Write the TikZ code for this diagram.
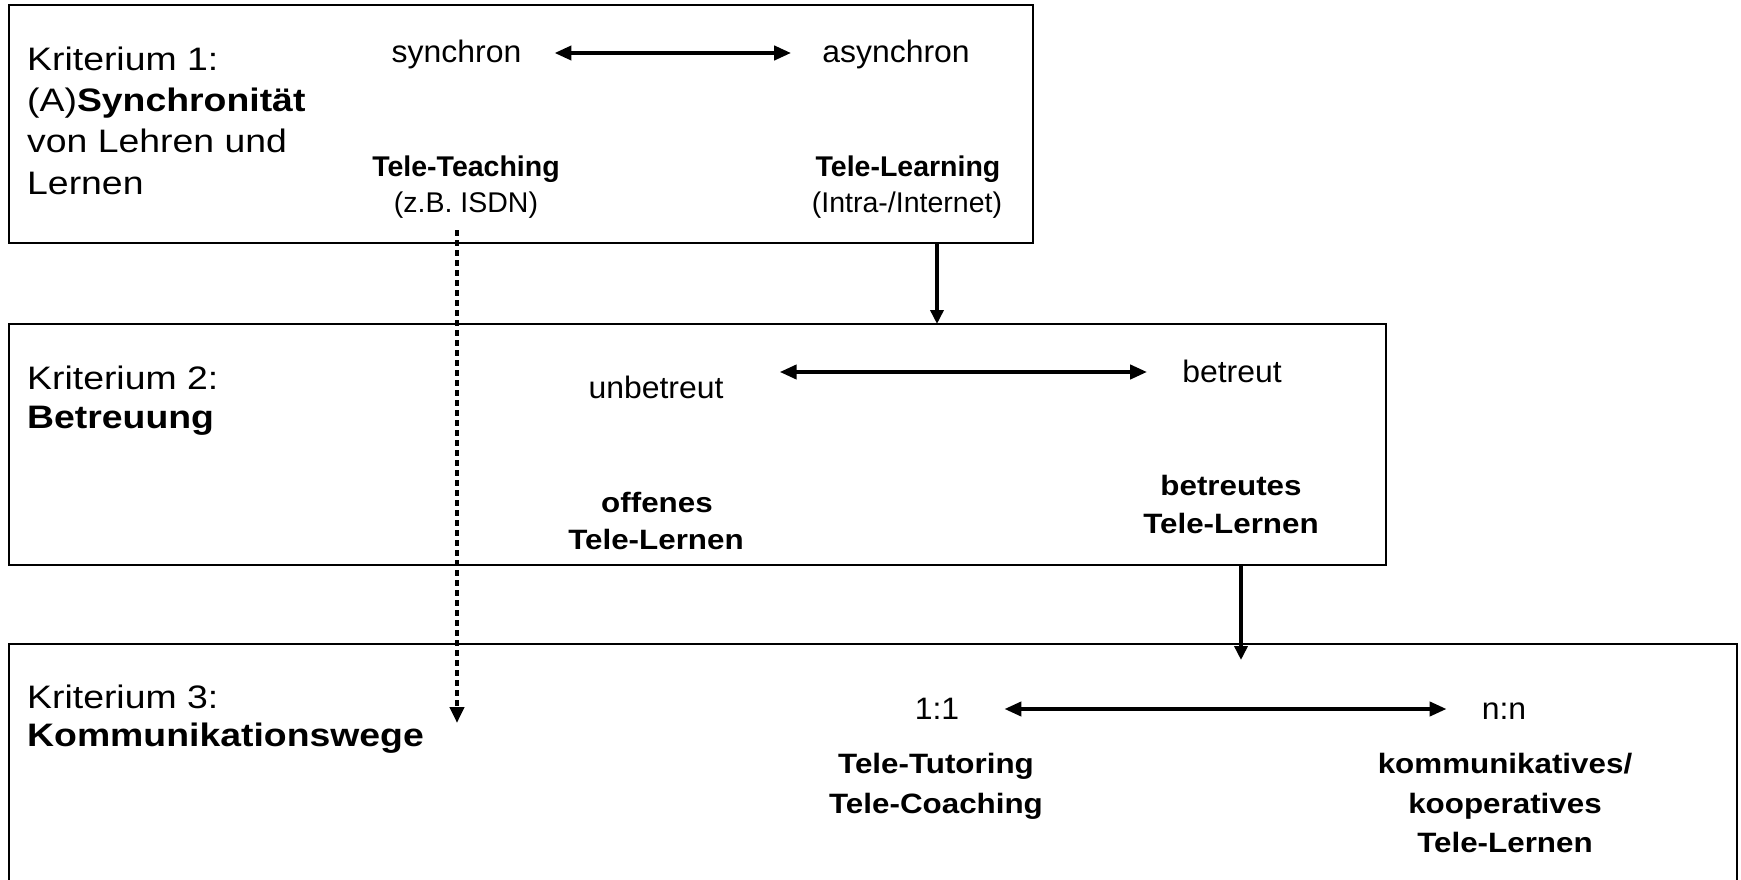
\documentclass[tikz,border=0pt]{standalone}
\usepackage{fontspec}
\setmainfont{Liberation Sans}
\newfontfamily\lblfam[FakeStretch=1.15]{Liberation Sans}
\newfontfamily\midfam[FakeStretch=1.03]{Liberation Sans}
\newfontfamily\nrmfam{Liberation Sans}
\newfontfamily\bbfam[FakeStretch=1.12]{Liberation Sans}
\usetikzlibrary{arrows.meta,calc}
\begin{document}
\begin{tikzpicture}[x=1pt,y=-1pt,
  box/.style={draw, line width=2.5pt, rectangle, inner sep=0pt, outer sep=0pt},
  lbl/.style={anchor=base west, inner sep=0pt, font=\lblfam\fontsize{32.5pt}{39pt}\selectfont},
  mid/.style={anchor=base, inner sep=0pt, font=\midfam\fontsize{31pt}{37pt}\selectfont},
  bone/.style={anchor=base, inner sep=0pt, font=\nrmfam\bfseries\fontsize{28.5pt}{34pt}\selectfont},
  rone/.style={anchor=base, inner sep=0pt, font=\nrmfam\fontsize{28.5pt}{34pt}\selectfont},
  btwo/.style={anchor=base, inner sep=0pt, font=\bbfam\bfseries\fontsize{28pt}{34pt}\selectfont},
  dbl/.style={line width=4pt, {Triangle[length=17pt,width=14pt]}-{Triangle[length=17pt,width=14pt]}},
  varrow/.style={line width=3.5pt, -{Triangle[length=14pt,width=13pt]}},
  dotarrow/.style={line width=4pt, dash pattern=on 6pt off 4pt, -{Triangle[length=16pt,width=14pt]}}
]
\useasboundingbox (0,0) rectangle (1741,880);
\clip (0,0) rectangle (1741,880);

% boxes
\node[box, minimum width=1024pt, minimum height=238pt] (b1) at (521,124) {};
\node[box, minimum width=1377pt, minimum height=241pt] (b2) at (697.5,444.5) {};
\node[box, minimum width=1728pt, minimum height=276pt] (b3) at (873,782) {};

% box 1 texts
\node[lbl] (k1a) at (27,71) {Kriterium 1:};
\node[lbl] (k1b) at (27,112) {(A)\textbf{Synchronität}};
\node[lbl] (k1c) at (27,153) {von Lehren und};
\node[lbl] (k1d) at (27,194) {Lernen};
\node[mid] (syn) at (456.5,63) {synchron};
\node[mid] (asyn) at (896,63) {asynchron};
\node[bone] (tt) at (466,176) {Tele-Teaching};
\node[rone] (isdn) at (466,212) {(z.B. ISDN)};
\node[bone] (tl) at (908,176) {Tele-Learning};
\node[rone] (inet) at (907,212) {(Intra-/Internet)};

% box 2 texts
\node[lbl] (k2a) at (27,389) {Kriterium 2:};
\node[lbl] (k2b) at (27,428) {\textbf{Betreuung}};
\node[mid] (unb) at (656,398) {unbetreut};
\node[mid] (bet) at (1232,382) {betreut};
\node[btwo] (off1) at (657,512) {offenes};
\node[btwo] (off2) at (656,549) {Tele-Lernen};
\node[btwo] (btr1) at (1231,495) {betreutes};
\node[btwo] (btr2) at (1231,533) {Tele-Lernen};

% box 3 texts
\node[lbl] (k3a) at (27,708) {Kriterium 3:};
\node[lbl] (k3b) at (27,746) {\textbf{Kommunikationswege}};
\node[mid] (one) at (937,719) {1:1};
\node[mid] (nn) at (1504,719) {n:n};
\node[btwo] (tut) at (936,773) {Tele-Tutoring};
\node[btwo] (coach) at (936,813) {Tele-Coaching};
\node[btwo] (kom) at (1505,773) {kommunikatives/};
\node[btwo] (koop) at (1505,813) {kooperatives};
\node[btwo] (tl3) at (1505,852) {Tele-Lernen};

% double arrows
\draw[dbl] ($(syn.base east)+(33,-10)$) -- ($(asyn.base west)+(-31,-10)$);
\draw[dbl] ($(unb.base east)+(56,-26)$) -- ($(bet.base west)+(-35,-10)$);
\draw[dbl] ($(one.base east)+(45,-10)$) -- ($(nn.base west)+(-35,-10)$);

% vertical arrows
\draw[varrow] ([xshift=928pt]b1.south west) -- ([xshift=928pt]b2.north west);
\draw[varrow] ([xshift=1232pt]b2.south west) -- ([xshift=1232pt,yshift=-16pt]b3.north west);

% dotted arrow
\coordinate (d0) at (457,230);
\coordinate (d1) at (457,723);
\draw[dotarrow] (d0) -- (d1);
\end{tikzpicture}
\end{document}
